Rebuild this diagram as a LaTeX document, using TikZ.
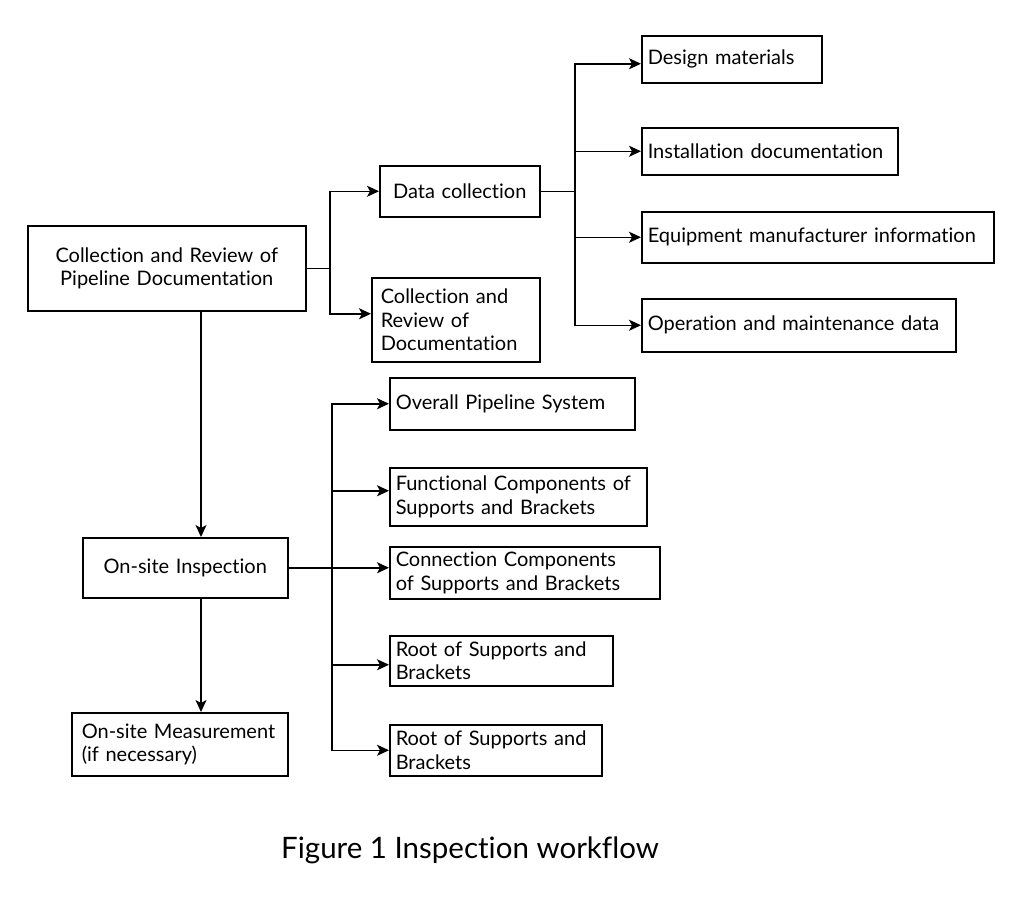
\documentclass[tikz,border=0pt]{standalone}
\usepackage{fontspec}
\setmainfont{Lato}[Ligatures=NoCommon]
\usetikzlibrary{arrows.meta}
\usetikzlibrary{positioning}

\begin{document}
\begin{tikzpicture}[x=1pt,y=-1pt,
	blk/.style={draw,line width=1.5pt,anchor=north west,inner xsep=6pt,inner ysep=2pt,align=left,font=\fontsize{20}{23.5}\selectfont},
	lnk/.style={line width=1.5pt},
	arr/.style={line width=1.5pt,-{Stealth[length=12pt,width=11pt,inset=3pt]}}]
	
	\useasboundingbox (0,0) rectangle (1024,908);
	
	% left column
	\node[blk,align=center,text width=266pt,minimum height=85pt] (pd) at (27,225) {Collection and Review of\\Pipeline Documentation};
	\node[blk,align=center,text width=193pt,minimum height=60pt] (os) at (82,537) {On-site Inspection};
	\node[blk,inner xsep=10pt,text width=196pt,minimum height=63pt] (ms) at (71,712) {On-site Measurement\\(if necessary)};
	
	% documentation branch
	\node[blk,align=center,text width=148pt,minimum height=51pt] (dc) at (379,165) {Data collection};
	\node[blk,inner xsep=9pt,text width=150pt,minimum height=84pt] (rd) at (371,277) {Collection and\\Review of\\Documentation};
	
	\node[blk,text width=168pt,minimum height=47pt] (dm) at (641,35) {Design materials};
	\node[blk,text width=244pt,minimum height=47pt] (id) at (641,127) {Installation documentation};
	\node[blk,text width=340pt,minimum height=51pt] (em) at (641,211) {Equipment manufacturer information};
	\node[blk,text width=302pt,minimum height=53pt] (om) at (641,298) {Operation and maintenance data};
	
	% inspection branch
	\node[blk,text width=233pt,minimum height=52pt] (ov) at (389,377) {Overall Pipeline System};
	\node[blk,text width=245pt,minimum height=58pt] (fc) at (389,467) {Functional Components of\\Supports and Brackets};
	\node[blk,text width=258pt,minimum height=52pt] (cc) at (389,546) {Connection Components\\of Supports and Brackets};
	\node[blk,text width=211pt,minimum height=50pt] (r1) at (389,635) {Root of Supports and\\Brackets};
	\node[blk,text width=200pt,minimum height=51pt] (r2) at (389,724) {Root of Supports and\\Brackets};
	
	\node[font=\fontsize{29.5}{34}\selectfont] (cap) at (470,850) {Figure 1 Inspection workflow};
	
	% branch points
	\coordinate (v1) at (201,0);
	\coordinate (b1) at (330,0);
	\coordinate (b2) at (575,0);
	\coordinate (b3) at (332,0);
	
	\draw[lnk] (pd.east) -- (pd.east -| b1);
	\draw[arr] (pd.east -| b1) |- (dc.west);
	\draw[arr] (pd.east -| b1) |- ([yshift=6pt]rd.west);
	
	\draw[lnk] (dc.east) -- (dc.east -| b2);
	\draw[arr] (dc.east -| b2) |- ([yshift=-4.5pt]dm.west);
	\draw[arr] (dc.east -| b2) |- (id.west);
	\draw[arr] (dc.east -| b2) |- (em.west);
	\draw[arr] (dc.east -| b2) |- (om.west);
	
	\draw[arr] (pd.south -| v1) -- (os.north -| v1);
	\draw[arr] (os.south -| v1) -- (ms.north -| v1);
	
	\draw[arr] (os.east) -- (os.east -| cc.west);
	\draw[arr] (os.east -| b3) |- (ov.west);
	\draw[arr] (os.east -| b3) |- ([yshift=6pt]fc.west);
	\draw[arr] (os.east -| b3) |- ([yshift=-4pt]r1.west);
	\draw[arr] (os.east -| b3) |- (r2.west);
\end{tikzpicture}
\end{document}
